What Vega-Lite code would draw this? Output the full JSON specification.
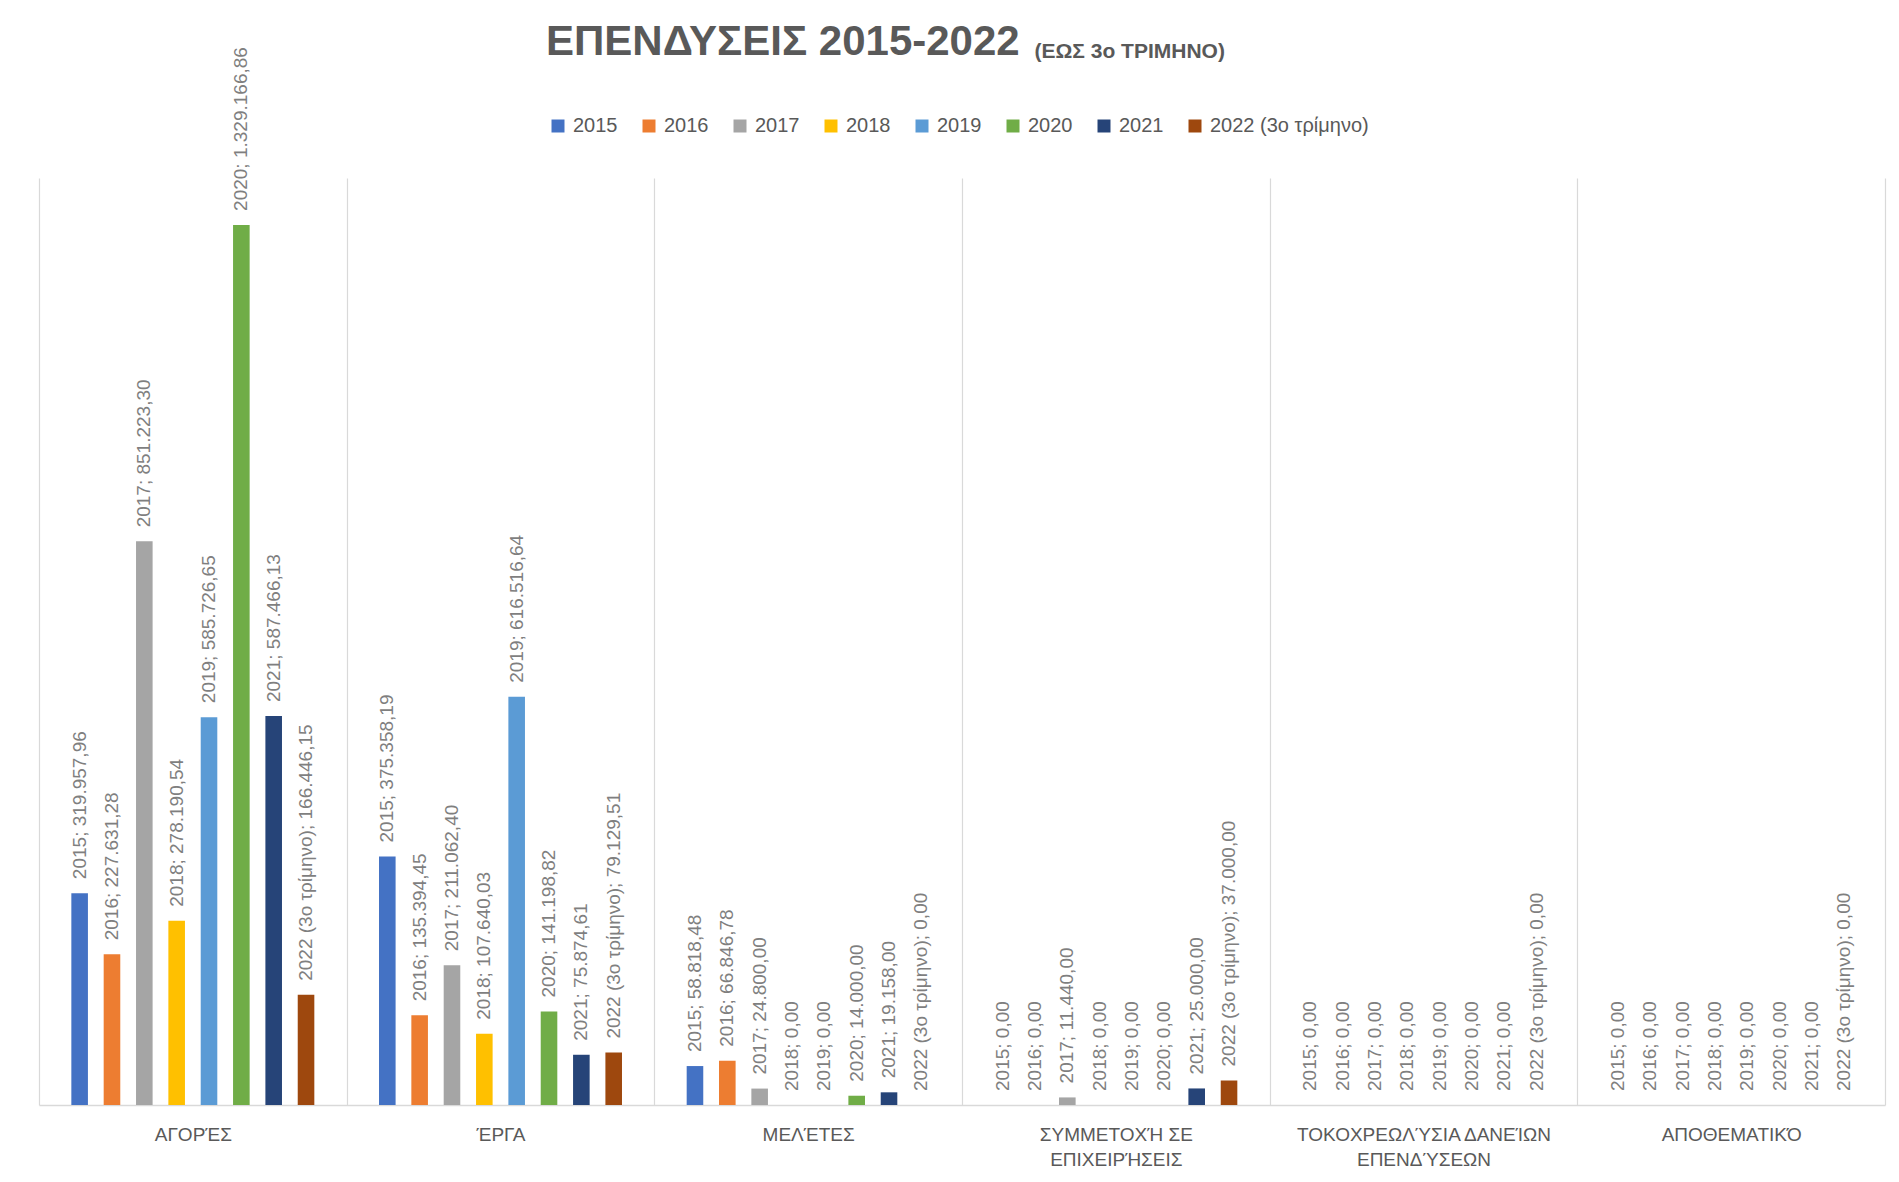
{
  "$schema": "https://vega.github.io/schema/vega-lite/v6.json",
  "width": 1846,
  "height": 927,
  "autosize": {"type": "none"},
  "padding": {"left": 39, "top": 178, "right": 14, "bottom": 77},
  "background": "white",
  "title": {
    "text": "ΕΠΕΝΔΥΣΕΙΣ 2015-2022",
    "anchor": "start",
    "frame": "group",
    "dx": 507,
    "offset": -57,
    "baseline": "alphabetic",
    "fontSize": 42,
    "fontWeight": "bold",
    "color": "#595959",
    "font": "Liberation Sans"
  },
  "data": {
    "values": [
      {"cat": "ΑΓΟΡΈΣ", "series": "2015", "value": 319957.96},
      {"cat": "ΑΓΟΡΈΣ", "series": "2016", "value": 227631.28},
      {"cat": "ΑΓΟΡΈΣ", "series": "2017", "value": 851223.30},
      {"cat": "ΑΓΟΡΈΣ", "series": "2018", "value": 278190.54},
      {"cat": "ΑΓΟΡΈΣ", "series": "2019", "value": 585726.65},
      {"cat": "ΑΓΟΡΈΣ", "series": "2020", "value": 1329166.86},
      {"cat": "ΑΓΟΡΈΣ", "series": "2021", "value": 587466.13},
      {"cat": "ΑΓΟΡΈΣ", "series": "2022 (3ο τρίμηνο)", "value": 166446.15},
      {"cat": "ΈΡΓΑ", "series": "2015", "value": 375358.19},
      {"cat": "ΈΡΓΑ", "series": "2016", "value": 135394.45},
      {"cat": "ΈΡΓΑ", "series": "2017", "value": 211062.40},
      {"cat": "ΈΡΓΑ", "series": "2018", "value": 107640.03},
      {"cat": "ΈΡΓΑ", "series": "2019", "value": 616516.64},
      {"cat": "ΈΡΓΑ", "series": "2020", "value": 141198.82},
      {"cat": "ΈΡΓΑ", "series": "2021", "value": 75874.61},
      {"cat": "ΈΡΓΑ", "series": "2022 (3ο τρίμηνο)", "value": 79129.51},
      {"cat": "ΜΕΛΈΤΕΣ", "series": "2015", "value": 58818.48},
      {"cat": "ΜΕΛΈΤΕΣ", "series": "2016", "value": 66846.78},
      {"cat": "ΜΕΛΈΤΕΣ", "series": "2017", "value": 24800.00},
      {"cat": "ΜΕΛΈΤΕΣ", "series": "2018", "value": 0},
      {"cat": "ΜΕΛΈΤΕΣ", "series": "2019", "value": 0},
      {"cat": "ΜΕΛΈΤΕΣ", "series": "2020", "value": 14000.00},
      {"cat": "ΜΕΛΈΤΕΣ", "series": "2021", "value": 19158.00},
      {"cat": "ΜΕΛΈΤΕΣ", "series": "2022 (3ο τρίμηνο)", "value": 0},
      {"cat": "ΣΥΜΜΕΤΟΧΉ ΣΕ ΕΠΙΧΕΙΡΉΣΕΙΣ", "series": "2015", "value": 0},
      {"cat": "ΣΥΜΜΕΤΟΧΉ ΣΕ ΕΠΙΧΕΙΡΉΣΕΙΣ", "series": "2016", "value": 0},
      {"cat": "ΣΥΜΜΕΤΟΧΉ ΣΕ ΕΠΙΧΕΙΡΉΣΕΙΣ", "series": "2017", "value": 11440.00},
      {"cat": "ΣΥΜΜΕΤΟΧΉ ΣΕ ΕΠΙΧΕΙΡΉΣΕΙΣ", "series": "2018", "value": 0},
      {"cat": "ΣΥΜΜΕΤΟΧΉ ΣΕ ΕΠΙΧΕΙΡΉΣΕΙΣ", "series": "2019", "value": 0},
      {"cat": "ΣΥΜΜΕΤΟΧΉ ΣΕ ΕΠΙΧΕΙΡΉΣΕΙΣ", "series": "2020", "value": 0},
      {"cat": "ΣΥΜΜΕΤΟΧΉ ΣΕ ΕΠΙΧΕΙΡΉΣΕΙΣ", "series": "2021", "value": 25000.00},
      {"cat": "ΣΥΜΜΕΤΟΧΉ ΣΕ ΕΠΙΧΕΙΡΉΣΕΙΣ", "series": "2022 (3ο τρίμηνο)", "value": 37000.00},
      {"cat": "ΤΟΚΟΧΡΕΩΛΎΣΙΑ ΔΑΝΕΊΩΝ ΕΠΕΝΔΎΣΕΩΝ", "series": "2015", "value": 0},
      {"cat": "ΤΟΚΟΧΡΕΩΛΎΣΙΑ ΔΑΝΕΊΩΝ ΕΠΕΝΔΎΣΕΩΝ", "series": "2016", "value": 0},
      {"cat": "ΤΟΚΟΧΡΕΩΛΎΣΙΑ ΔΑΝΕΊΩΝ ΕΠΕΝΔΎΣΕΩΝ", "series": "2017", "value": 0},
      {"cat": "ΤΟΚΟΧΡΕΩΛΎΣΙΑ ΔΑΝΕΊΩΝ ΕΠΕΝΔΎΣΕΩΝ", "series": "2018", "value": 0},
      {"cat": "ΤΟΚΟΧΡΕΩΛΎΣΙΑ ΔΑΝΕΊΩΝ ΕΠΕΝΔΎΣΕΩΝ", "series": "2019", "value": 0},
      {"cat": "ΤΟΚΟΧΡΕΩΛΎΣΙΑ ΔΑΝΕΊΩΝ ΕΠΕΝΔΎΣΕΩΝ", "series": "2020", "value": 0},
      {"cat": "ΤΟΚΟΧΡΕΩΛΎΣΙΑ ΔΑΝΕΊΩΝ ΕΠΕΝΔΎΣΕΩΝ", "series": "2021", "value": 0},
      {"cat": "ΤΟΚΟΧΡΕΩΛΎΣΙΑ ΔΑΝΕΊΩΝ ΕΠΕΝΔΎΣΕΩΝ", "series": "2022 (3ο τρίμηνο)", "value": 0},
      {"cat": "ΑΠΟΘΕΜΑΤΙΚΌ", "series": "2015", "value": 0},
      {"cat": "ΑΠΟΘΕΜΑΤΙΚΌ", "series": "2016", "value": 0},
      {"cat": "ΑΠΟΘΕΜΑΤΙΚΌ", "series": "2017", "value": 0},
      {"cat": "ΑΠΟΘΕΜΑΤΙΚΌ", "series": "2018", "value": 0},
      {"cat": "ΑΠΟΘΕΜΑΤΙΚΌ", "series": "2019", "value": 0},
      {"cat": "ΑΠΟΘΕΜΑΤΙΚΌ", "series": "2020", "value": 0},
      {"cat": "ΑΠΟΘΕΜΑΤΙΚΌ", "series": "2021", "value": 0},
      {"cat": "ΑΠΟΘΕΜΑΤΙΚΌ", "series": "2022 (3ο τρίμηνο)", "value": 0}
    ]
  },
  "transform": [
    {"calculate": "datum.series + '; ' + format(datum.value, ',.2f')", "as": "label"}
  ],
  "encoding": {
    "xOffset": {
      "field": "series",
      "type": "nominal",
      "sort": ["2015", "2016", "2017", "2018", "2019", "2020", "2021", "2022 (3ο τρίμηνο)"],
      "scale": {"paddingInner": 0.487, "paddingOuter": 1.17}
    },
    "y": {
      "field": "value",
      "type": "quantitative",
      "scale": {"domain": [0, 1400000], "nice": false, "zero": true},
      "axis": null
    }
  },
  "layer": [
    {
      "mark": {"type": "bar"},
      "encoding": {
        "x": {
          "field": "cat",
          "type": "nominal",
          "sort": ["ΑΓΟΡΈΣ", "ΈΡΓΑ", "ΜΕΛΈΤΕΣ", "ΣΥΜΜΕΤΟΧΉ ΣΕ ΕΠΙΧΕΙΡΉΣΕΙΣ", "ΤΟΚΟΧΡΕΩΛΎΣΙΑ ΔΑΝΕΊΩΝ ΕΠΕΝΔΎΣΕΩΝ", "ΑΠΟΘΕΜΑΤΙΚΌ"],
          "scale": {"paddingInner": 0, "paddingOuter": 0},
          "axis": {
            "orient": "bottom",
            "title": null,
            "tickBand": "extent",
            "grid": true,
            "gridColor": "#D9D9D9",
            "gridWidth": 1.2,
            "domain": true,
            "domainColor": "#D9D9D9",
            "domainWidth": 1.5,
            "ticks": false,
            "labelAngle": 0,
            "labelAlign": "center",
            "labelBaseline": "top",
            "labelFontSize": 19,
            "labelColor": "#595959",
            "labelPadding": 20,
            "labelLineHeight": 25,
            "labelLimit": 0,
            "labelExpr": "datum.value == 'ΣΥΜΜΕΤΟΧΉ ΣΕ ΕΠΙΧΕΙΡΉΣΕΙΣ' ? ['ΣΥΜΜΕΤΟΧΉ ΣΕ', 'ΕΠΙΧΕΙΡΉΣΕΙΣ'] : datum.value == 'ΤΟΚΟΧΡΕΩΛΎΣΙΑ ΔΑΝΕΊΩΝ ΕΠΕΝΔΎΣΕΩΝ' ? ['ΤΟΚΟΧΡΕΩΛΎΣΙΑ ΔΑΝΕΊΩΝ', 'ΕΠΕΝΔΎΣΕΩΝ'] : datum.value"
          }
        },
        "color": {
          "field": "series",
          "type": "nominal",
          "scale": {
            "domain": ["2015", "2016", "2017", "2018", "2019", "2020", "2021", "2022 (3ο τρίμηνο)"],
            "range": ["#4472C4", "#ED7D31", "#A5A5A5", "#FFC000", "#5B9BD5", "#70AD47", "#264478", "#9E480E"]
          },
          "legend": {
            "orient": "none",
            "legendX": 509,
            "legendY": -62,
            "direction": "horizontal",
            "title": null,
            "symbolType": "square",
            "symbolSize": 169,
            "symbolStrokeWidth": 0,
            "labelFontSize": 20,
            "labelColor": "#595959",
            "labelOffset": 5,
            "columnPadding": 21
          }
        }
      }
    },
    {
      "mark": {
        "type": "text",
        "angle": 270,
        "align": "left",
        "baseline": "middle",
        "dx": 14,
        "fontSize": 19,
        "color": "#7F7F7F"
      },
      "encoding": {
        "x": {
          "field": "cat",
          "type": "nominal",
          "sort": ["ΑΓΟΡΈΣ", "ΈΡΓΑ", "ΜΕΛΈΤΕΣ", "ΣΥΜΜΕΤΟΧΉ ΣΕ ΕΠΙΧΕΙΡΉΣΕΙΣ", "ΤΟΚΟΧΡΕΩΛΎΣΙΑ ΔΑΝΕΊΩΝ ΕΠΕΝΔΎΣΕΩΝ", "ΑΠΟΘΕΜΑΤΙΚΌ"],
          "axis": {
            "orient": "top",
            "labels": false,
            "ticks": false,
            "domain": false,
            "grid": false,
            "title": "(ΕΩΣ 3ο ΤΡΙΜΗΝΟ)",
            "titleX": 995,
            "titleY": -121,
            "titleAlign": "left",
            "titleAnchor": null,
            "titleBaseline": "alphabetic",
            "titleFontSize": 21,
            "titleFontWeight": "bold",
            "titleColor": "#595959",
            "titlePadding": 0
          }
        },
        "text": {"field": "label", "type": "nominal"}
      }
    }
  ],
  "resolve": {"axis": {"x": "independent"}},
  "config": {
    "view": {"stroke": null},
    "font": "Liberation Sans",
    "locale": {
      "number": {"decimal": ",", "thousands": ".", "grouping": [3], "currency": ["", " €"]}
    }
  }
}
